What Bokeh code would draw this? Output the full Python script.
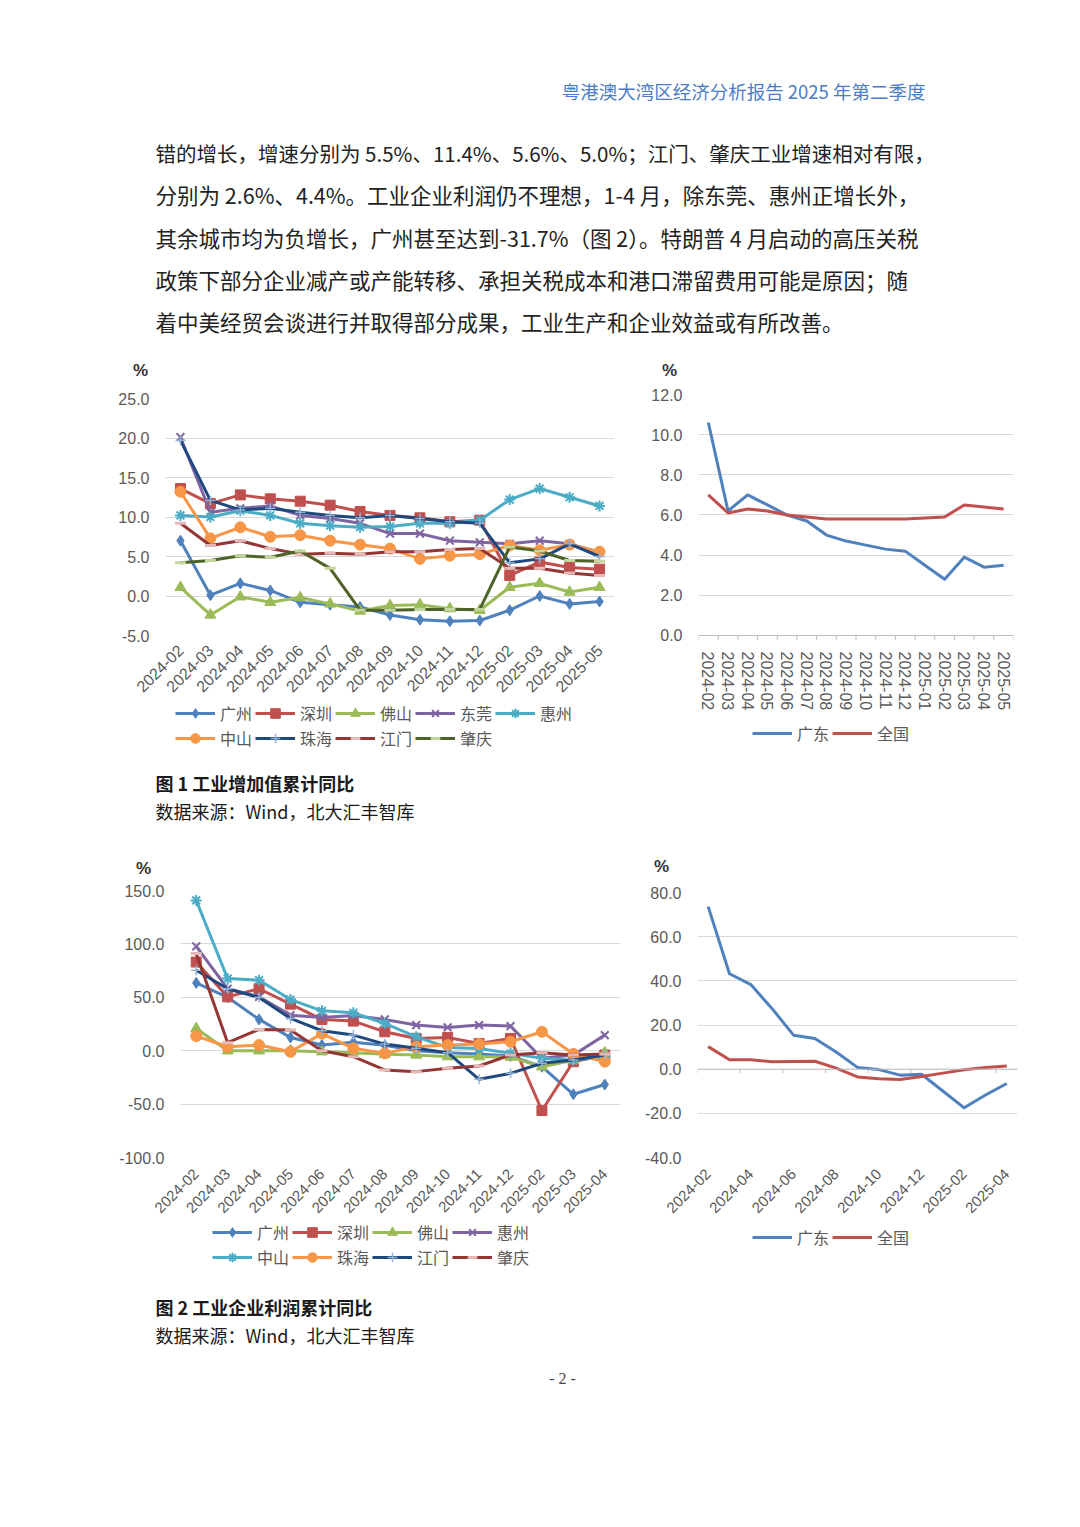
import math
from bokeh.plotting import figure
from bokeh.models import Range1d, FixedTicker, PrintfTickFormatter, Legend, LegendItem, Span
from bokeh.layouts import column, row
from bokeh.embed import file_html
from bokeh.resources import INLINE
from bokeh.core.properties import value

CJK = "Noto Sans CJK SC"
LAT = "Liberation Sans"
GRID = "#D9D9D9"
TICK = "#595959"
PAGE_W = 1080

# ---------------- text ----------------
header = "粤港澳大湾区经济分析报告 2025 年第二季度"
para_lines = [
    "错的增长，增速分别为 5.5%、11.4%、5.6%、5.0%；江门、肇庆工业增速相对有限，",
    "分别为 2.6%、4.4%。工业企业利润仍不理想，1-4 月，除东莞、惠州正增长外，",
    "其余城市均为负增长，广州甚至达到-31.7%（图 2）。特朗普 4 月启动的高压关税",
    "政策下部分企业减产或产能转移、承担关税成本和港口滞留费用可能是原因；随",
    "着中美经贸会谈进行并取得部分成果，工业生产和企业效益或有所改善。",
]
para_sizes = ["20.5px", "21.5px", "21.5px", "21.5px", "21.5px"]
fig1_caption = "图 1 工业增加值累计同比"
fig2_caption = "图 2 工业企业利润累计同比"
source_text = "数据来源：Wind，北大汇丰智库"
page_no = "- 2 -"
unit_label = "%"

# ---------------- chart 1: industrial value added, cities ----------------
months1 = ["2024-02", "2024-03", "2024-04", "2024-05", "2024-06", "2024-07", "2024-08",
           "2024-09", "2024-10", "2024-11", "2024-12", "2025-02", "2025-03", "2025-04", "2025-05"]
cities1 = ["广州", "深圳", "佛山", "东莞", "惠州", "中山", "珠海", "江门", "肇庆"]
gz_iva = [7.0, 0.1, 1.6, 0.7, -0.8, -1.1, -1.4, -2.4, -3.0, -3.2, -3.1, -1.8, 0.0, -1.0, -0.7]
sz_iva = [13.6, 11.7, 12.8, 12.3, 12.0, 11.5, 10.7, 10.2, 9.9, 9.4, 9.6, 2.6, 4.3, 3.6, 3.4]
fs_iva = [1.1, -2.4, -0.1, -0.8, -0.2, -1.0, -1.9, -1.2, -1.1, -1.6, -1.8, 1.1, 1.6, 0.5, 1.1]
dg_iva = [20.1, 10.6, 11.1, 11.4, 10.2, 9.8, 9.2, 7.9, 7.9, 7.0, 6.8, 6.6, 7.0, 6.6, 5.5]
hz_iva = [10.2, 10.0, 10.8, 10.2, 9.2, 8.9, 8.7, 8.8, 9.2, 9.2, 9.6, 12.2, 13.6, 12.5, 11.4]
zs_iva = [13.2, 7.3, 8.7, 7.5, 7.7, 7.0, 6.5, 6.0, 4.7, 5.1, 5.3, 6.4, 5.8, 6.5, 5.6]
zh_iva = [19.7, 12.1, 10.9, 11.1, 10.6, 10.2, 9.9, 10.2, 9.8, 9.4, 9.2, 4.2, 4.7, 6.6, 5.0]
jm_iva = [9.2, 6.4, 7.0, 6.0, 5.3, 5.4, 5.3, 5.6, 5.6, 5.9, 6.0, 3.5, 3.5, 2.9, 2.6]
zq_iva = [4.2, 4.5, 5.1, 4.9, 5.7, 3.5, -1.8, -1.8, -1.7, -1.7, -1.7, 6.2, 5.7, 4.5, 4.4]

# ---------------- chart 2: industrial value added, Guangdong vs China ----------------
months2 = ["2024-02", "2024-03", "2024-04", "2024-05", "2024-06", "2024-07", "2024-08", "2024-09",
           "2024-10", "2024-11", "2024-12", "2025-01", "2025-02", "2025-03", "2025-04", "2025-05"]
regions = ["广东", "全国"]
gd_iva = [10.6, 6.2, 7.0, 6.5, 6.0, 5.7, 5.0, 4.7, 4.5, 4.3, 4.2, 3.5, 2.8, 3.9, 3.4, 3.5]
cn_iva = [7.0, 6.1, 6.3, 6.2, 6.0, 5.9, 5.8, 5.8, 5.8, 5.8, 5.8, 5.85, 5.9, 6.5, 6.4, 6.3]

# ---------------- chart 3: industrial profits, cities ----------------
months3 = ["2024-02", "2024-03", "2024-04", "2024-05", "2024-06", "2024-07", "2024-08",
           "2024-09", "2024-10", "2024-11", "2024-12", "2025-02", "2025-03", "2025-04"]
cities3 = ["广州", "深圳", "佛山", "惠州", "中山", "珠海", "江门", "肇庆"]
gz_pr = [63.5, 50.0, 29.3, 12.4, 5.3, 8.0, 5.0, 0.0, -2.0, -3.0, -5.0, -15.0, -40.8, -31.7]
sz_pr = [83.0, 50.4, 58.0, 43.6, 29.3, 27.7, 17.7, 11.5, 12.4, 6.8, 11.5, -56.0, -10.3, -4.0]
fs_pr = [20.8, 0.0, 0.0, 0.0, -1.0, -2.0, -3.4, -4.0, -5.6, -5.6, -6.0, -15.0, -9.0, -2.0]
hz_pr = [97.7, 58.0, 50.4, 33.3, 31.0, 33.0, 29.3, 24.0, 21.8, 24.0, 23.0, -7.0, -4.0, 14.6]
zs_pr = [140.7, 67.5, 66.0, 47.9, 37.3, 35.5, 25.5, 13.0, 3.0, 2.0, -2.5, -7.0, -9.0, -5.6]
zh_pr = [13.7, 3.7, 5.3, -1.0, 16.0, 2.2, -2.5, 3.7, 5.3, 6.2, 8.4, 17.7, -3.0, -10.3]
jm_pr = [75.3, 58.0, 49.8, 30.2, 18.7, 14.6, 6.2, 2.2, -1.9, -26.8, -21.2, -11.8, -8.7, -4.0]
zq_pr = [90.9, 7.5, 19.9, 19.3, 0.0, -5.6, -18.0, -19.6, -16.5, -14.3, -4.0, -1.9, -4.0, -3.0]

# ---------------- chart 4: industrial profits, Guangdong vs China ----------------
months4 = ["2024-02", "2024-03", "2024-04", "2024-05", "2024-06", "2024-07", "2024-08", "2024-09",
           "2024-10", "2024-11", "2024-12", "2025-01", "2025-02", "2025-03", "2025-04"]
gd_pr = [73.6, 43.2, 38.3, 27.4, 15.4, 13.9, 7.8, 0.8, -0.2, -2.7, -2.3, -9.9, -17.5, -11.7, -6.5]
cn_pr = [10.2, 4.3, 4.3, 3.4, 3.5, 3.6, 0.5, -3.5, -4.3, -4.7, -3.3, -1.8, -0.3, 0.8, 1.4]

# Excel-like series styles in order
CITY_STYLES = [
    dict(color="#4F81BD", marker="diamond", size=11, fill="#4F81BD", mline="#4F81BD", mlw=1),
    dict(color="#C0504D", marker="square", size=10, fill="#C0504D", mline="#C0504D", mlw=1),
    dict(color="#9BBB59", marker="triangle", size=11, fill="#9BBB59", mline="#9BBB59", mlw=1),
    dict(color="#8064A2", marker="x", size=11, fill=None, mline="#8064A2", mlw=2),
    dict(color="#4BACC6", marker="asterisk", size=11, fill=None, mline="#4BACC6", mlw=2),
    dict(color="#F79646", marker="circle", size=11, fill="#F79646", mline="#F79646", mlw=1),
    dict(color="#1F497D", marker="cross", size=10, fill=None, mline="#95B3D7", mlw=1.5),
    dict(color="#943634", marker="dash", size=11, fill=None, mline="#E6B9B8", mlw=3),
    dict(color="#4F6228", marker="dash", size=11, fill=None, mline="#C3D69B", mlw=3),
]
REGION_STYLES = [
    dict(color="#4F81BD", marker=None),
    dict(color="#C0504D", marker=None),
]


def add_series(p, xs, vals, st):
    rl = p.line(xs, vals, line_color=st["color"], line_width=3, line_join="round")
    rs = [rl]
    if st.get("marker"):
        rs.append(p.scatter(xs, vals, marker=st["marker"], size=st["size"],
                            fill_color=st["fill"], line_color=st["mline"], line_width=st["mlw"]))
    return rs


def make_chart(cats, series, styles, y_lo, y_hi, t_lo, step, W, H, fl, fw, ft, fh,
               lab_idx, orient, x_standoff, x_font, zero_tick_every=None, zero_tick_len=0.0):
    n = len(cats)
    xs = list(range(n))
    p = figure(width=W, height=H, x_range=Range1d(-0.5, n - 0.5), y_range=Range1d(y_lo, y_hi),
               output_backend="svg", toolbar_location=None,
               min_border_left=fl, min_border_right=W - fl - fw,
               min_border_top=ft, min_border_bottom=H - ft - fh)
    p.outline_line_color = None
    ticks = list(range(t_lo, y_hi + 1, step))
    p.yaxis.ticker = FixedTicker(ticks=ticks)
    p.yaxis.formatter = PrintfTickFormatter(format="%.1f")
    p.yaxis.axis_line_color = None
    p.yaxis.major_tick_line_color = None
    p.yaxis.minor_tick_line_color = None
    p.yaxis.major_label_text_font = LAT
    p.yaxis.major_label_text_font_size = "16px"
    p.yaxis.major_label_text_color = TICK
    p.yaxis.major_label_standoff = 10
    p.ygrid.ticker = FixedTicker(ticks=ticks)
    p.ygrid.grid_line_color = GRID
    p.xgrid.grid_line_color = None

    p.xaxis.ticker = FixedTicker(ticks=lab_idx)
    p.xaxis.major_label_overrides = {i: cats[i] for i in lab_idx}
    p.xaxis.major_label_orientation = orient
    p.xaxis.axis_line_color = None
    p.xaxis.major_tick_line_color = None
    p.xaxis.minor_tick_line_color = None
    p.xaxis.major_label_standoff = x_standoff
    p.xaxis.major_label_text_font = LAT
    p.xaxis.major_label_text_font_size = x_font
    p.xaxis.major_label_text_color = TICK

    if zero_tick_every:
        p.add_layout(Span(location=0, dimension="width", line_color="#BFBFBF", line_width=1))
        bounds = [i - 0.5 for i in range(0, n + 1, zero_tick_every)]
        p.segment(x0=bounds, y0=[0] * len(bounds), x1=bounds, y1=[-zero_tick_len] * len(bounds),
                  line_color="#BFBFBF", line_width=1)

    for vals, st in zip(series, styles):
        add_series(p, xs, vals, st)
    return p


def legend_fig(W, H, fl, fw, dx, top, rows, names, series, styles, ncols):
    # strip under a chart carrying its legend; frame aligned with the chart's frame
    p = figure(width=W, height=H, x_range=Range1d(0, 1), y_range=Range1d(0, 1),
               output_backend="svg", toolbar_location=None,
               x_axis_location=None, y_axis_location=None,
               min_border_left=fl, min_border_right=W - fl - fw, min_border_top=0, min_border_bottom=0)
    p.grid.visible = False
    p.outline_line_color = None
    items = []
    for name, vals, st in zip(names, series, styles):
        # off-frame anchor points: only the legend samples of these renderers are visible
        rs = add_series(p, [-2, -1], vals[:2], st)
        items.append(LegendItem(label=name, renderers=rs))
    item_h, spacing = 24, 1
    leg_h = rows * item_h + (rows - 1) * spacing
    leg = Legend(items=items, location=(dx, H - top - leg_h), orientation="horizontal", ncols=ncols,
                 margin=0, padding=0, spacing=spacing, glyph_width=40, glyph_height=24,
                 label_standoff=5, label_width=34, label_height=20,
                 label_text_font=CJK, label_text_font_size="16px", label_text_color=TICK,
                 border_line_color=None, background_fill_alpha=0)
    p.add_layout(leg, "center")
    return p


def text_fig(H):
    p = figure(width=PAGE_W, height=H, x_range=Range1d(0, PAGE_W), y_range=Range1d(H, 0),
               output_backend="svg", toolbar_location=None,
               x_axis_location=None, y_axis_location=None, min_border=0)
    p.grid.visible = False
    p.outline_line_color = None
    return p


def put_text(p, x, y, s, size, color="#1a1a1a", font=CJK, align="left", style="normal"):
    p.text(x=[x], y=[y], text=[s], text_font=value(font), text_font_size=size,
           text_font_style=style, text_color=color, text_align=align, text_baseline="middle")


# ---- top text (page y 0..385) ----
top = text_fig(385)
put_text(top, 925, 90, header, "18.5px", color="#4A7DC6", align="right")
top.text(x=[155] * len(para_lines), y=[152 + 42.25 * i for i in range(len(para_lines))],
         text=para_lines, text_font=value(CJK), text_font_size=para_sizes,
         text_color="#222222", text_align="left", text_baseline="middle")
put_text(top, 140, 370, unit_label, "17px", color="#333333", font=LAT, align="center", style="bold")
put_text(top, 669, 370, unit_label, "17px", color="#333333", font=LAT, align="center", style="bold")

# ---- chart row 1 (page y 385..760) ----
s1 = [gz_iva, sz_iva, fs_iva, dg_iva, hz_iva, zs_iva, zh_iva, jm_iva, zq_iva]
c1 = make_chart(months1, s1, CITY_STYLES, -5, 25, -5, 5, 625, 316, 165, 449, 13, 237,
                list(range(len(months1))), math.pi / 4, 6, "16px")
l1 = legend_fig(625, 59, 165, 449, 10, 0, 2, cities1, s1, CITY_STYLES, 5)
s2 = [gd_iva, cn_iva]
c2 = make_chart(months2, s2, REGION_STYLES, -0.3, 12, 0, 2, 455, 328, 73, 315, 9, 249,
                list(range(len(months2))), "vertical", 4, "16px",
                zero_tick_every=1, zero_tick_len=0.22)
l2 = legend_fig(455, 47, 73, 315, 54, 8, 1, regions, s2, REGION_STYLES, 2)

# ---- caption 1 (page y 760..880) ----
cap1 = text_fig(120)
put_text(cap1, 155, 22, fig1_caption, "18px", style="bold")
put_text(cap1, 155, 50, source_text, "18px")
put_text(cap1, 143, 108, unit_label, "17px", color="#333333", font=LAT, align="center", style="bold")
put_text(cap1, 661, 106, unit_label, "17px", color="#333333", font=LAT, align="center", style="bold")

# ---- chart row 2 (page y 880..1275) ----
s3 = [gz_pr, sz_pr, fs_pr, hz_pr, zs_pr, zh_pr, jm_pr, zq_pr]
c3 = make_chart(months3, s3, CITY_STYLES[:8], -100, 150, -100, 50, 625, 340, 180, 440, 10, 268,
                list(range(len(months3))), math.pi / 4, 8, "15px")
l3 = legend_fig(625, 55, 180, 440, 32, 0, 2, cities3, s3, CITY_STYLES[:8], 4)
s4 = [gd_pr, cn_pr]
c4 = make_chart(months4, s4, REGION_STYLES, -40, 80, -40, 20, 455, 341, 72, 320, 12, 265,
                list(range(0, len(months4), 2)), math.pi / 4, 8, "15px",
                zero_tick_every=2, zero_tick_len=1.8)
l4 = legend_fig(455, 54, 72, 320, 55, 4, 1, regions, s4, REGION_STYLES, 2)

# ---- caption 2 & page number (page y 1275..1527) ----
bottom = text_fig(252)
put_text(bottom, 155, 31, fig2_caption, "18px", style="bold")
put_text(bottom, 155, 59, source_text, "18px")
put_text(bottom, 562, 103, page_no, "16px", color="#444444", font="Liberation Serif", align="center")

page = column(top,
              row(column(c1, l1), column(c2, l2)),
              cap1,
              row(column(c3, l3), column(c4, l4)),
              bottom)

open("out.html", "w").write(file_html(page, INLINE))
